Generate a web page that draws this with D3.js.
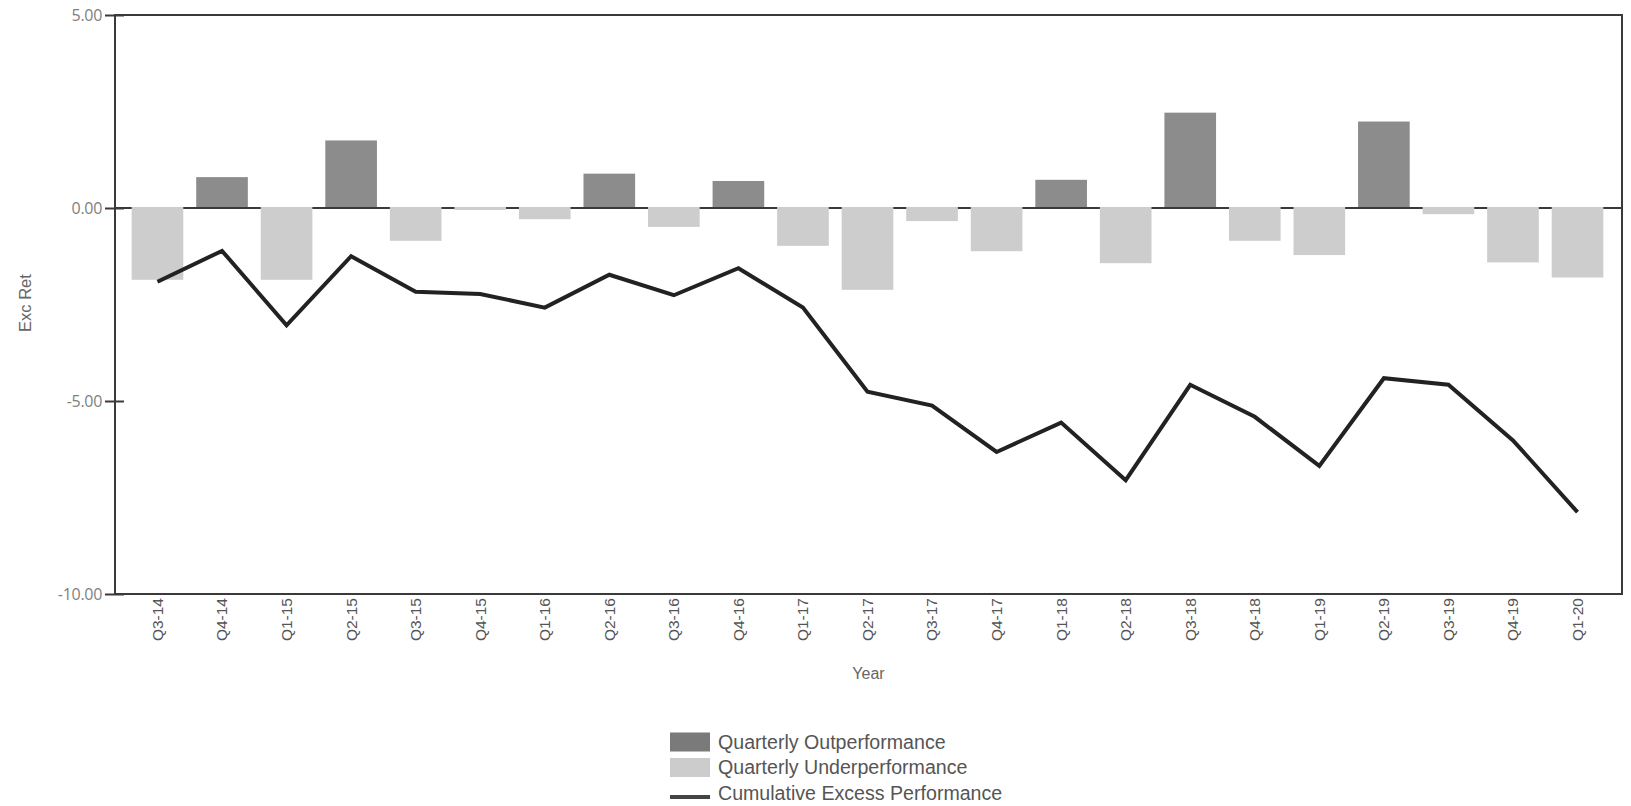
<!DOCTYPE html>
<html>
<head>
<meta charset="utf-8">
<script src="https://cdn.jsdelivr.net/npm/d3@7/dist/d3.min.js"></script>
<style>
  html, body { margin: 0; padding: 0; background: #fff; }
  svg { display: block; }
</style>
</head>
<body>
<svg id="chart" width="1631" height="806"></svg>
<script>
const categories = ["Q3-14","Q4-14","Q1-15","Q2-15","Q3-15","Q4-15","Q1-16","Q2-16","Q3-16","Q4-16","Q1-17","Q2-17","Q3-17","Q4-17","Q1-18","Q2-18","Q3-18","Q4-18","Q1-19","Q2-19","Q3-19","Q4-19","Q1-20"];
const quarterlyExcess = [-1.86, 0.80, -1.86, 1.75, -0.85, -0.05, -0.29, 0.89, -0.49, 0.70, -0.98, -2.12, -0.34, -1.12, 0.73, -1.43, 2.47, -0.85, -1.22, 2.24, -0.16, -1.41, -1.80];
const cumulativeExcess = [-1.91, -1.11, -3.04, -1.25, -2.17, -2.23, -2.58, -1.73, -2.26, -1.56, -2.58, -4.76, -5.12, -6.32, -5.56, -7.05, -4.58, -5.41, -6.68, -4.41, -4.58, -6.02, -7.88];
const yTicks = [5, 0, -5, -10];
const legendLabels = ["Quarterly Outperformance", "Quarterly Underperformance", "Cumulative Excess Performance"];

const svg = d3.select("#chart");
const frame = { left: 115, right: 1622, top: 15, bottom: 594 };

const x = d3.scaleBand().domain(categories).range([125.2, 1609.8]).paddingInner(0.2).paddingOuter(0.1);
const y = d3.scaleLinear().domain([-10, 5]).range([frame.bottom, frame.top]);

const colOut = "#8c8c8c", colUnder = "#cdcdcd", colLine = "#222222", colFrame = "#3a3a3a";

// zero line
svg.append("line")
  .attr("x1", frame.left).attr("x2", frame.right)
  .attr("y1", y(0)).attr("y2", y(0))
  .attr("stroke", colFrame).attr("stroke-width", 2);

// bars
svg.append("g").selectAll("rect")
  .data(categories.map((c, i) => ({ c, v: quarterlyExcess[i] })))
  .join("rect")
  .attr("x", d => x(d.c))
  .attr("width", x.bandwidth())
  .attr("y", d => d.v >= 0 ? y(d.v) : y(0) - 1)
  .attr("height", d => d.v >= 0 ? y(0) - 1 - y(d.v) : y(d.v) - y(0) + 1)
  .attr("fill", d => d.v >= 0 ? colOut : colUnder);

// cumulative line
const line = d3.line()
  .x((d, i) => x(categories[i]) + x.bandwidth() / 2)
  .y(d => y(d));
svg.append("path")
  .datum(cumulativeExcess)
  .attr("d", line)
  .attr("fill", "none")
  .attr("stroke", colLine)
  .attr("stroke-width", 4)
  .attr("stroke-linejoin", "miter");

// frame
svg.append("rect")
  .attr("x", frame.left).attr("y", frame.top)
  .attr("width", frame.right - frame.left).attr("height", frame.bottom - frame.top)
  .attr("fill", "none").attr("stroke", colFrame).attr("stroke-width", 2);

// y axis
const yAxis = svg.append("g")
  .attr("transform", `translate(${frame.left},0)`)
  .call(d3.axisLeft(y).tickValues(yTicks).tickFormat(d => d.toFixed(2)).tickSize(10).tickPadding(3));
yAxis.select(".domain").remove();
yAxis.selectAll(".tick line").attr("x1", 9).attr("stroke", colFrame).attr("stroke-width", 2);
yAxis.selectAll(".tick text")
  .attr("fill", "#808080")
  .style("font-family", "'Open Sans', 'Liberation Sans', sans-serif")
  .style("font-size", "16px")
  .style("letter-spacing", "-0.3px");

// x axis
const xAxis = svg.append("g")
  .attr("transform", `translate(0,${frame.bottom})`)
  .call(d3.axisBottom(x).tickSize(0));
xAxis.select(".domain").remove();
xAxis.selectAll(".tick text")
  .attr("transform", "rotate(-90)")
  .attr("x", -4).attr("y", 0).attr("dy", "0.35em")
  .attr("text-anchor", "end")
  .attr("fill", "#555")
  .style("font-family", "'Liberation Sans', Arial, sans-serif")
  .style("font-size", "15.5px");

// axis titles
svg.append("text")
  .attr("x", (frame.left + frame.right) / 2).attr("y", 673).attr("dy", "0.35em")
  .attr("text-anchor", "middle").attr("fill", "#666")
  .style("font-family", "'Liberation Sans', Arial, sans-serif").style("font-size", "16px")
  .text("Year");
svg.append("text")
  .attr("transform", "translate(25,303) rotate(-90)")
  .attr("dy", "0.35em")
  .attr("text-anchor", "middle").attr("fill", "#666")
  .style("font-family", "'Liberation Sans', Arial, sans-serif").style("font-size", "16.5px")
  .text("Exc Ret");

// legend
const legend = svg.append("g").attr("transform", "translate(670,742)");
const legendColors = ["#7a7a7a", "#cccccc", "#444444"];
legendLabels.forEach((lab, i) => {
  const g = legend.append("g").attr("transform", `translate(0,${i * 25.5})`);
  if (i < 2) {
    g.append("rect").attr("x", 0).attr("y", -9.5).attr("width", 40).attr("height", 19).attr("fill", legendColors[i]);
  } else {
    g.append("line").attr("x1", 0).attr("x2", 40).attr("y1", 4).attr("y2", 4)
      .attr("stroke", legendColors[i]).attr("stroke-width", 4);
  }
  g.append("text").attr("x", 48).attr("y", 0).attr("dy", "0.35em")
    .attr("fill", "#555")
    .style("font-family", "'Liberation Sans', Arial, sans-serif").style("font-size", "19.6px")
    .text(lab);
});
</script>
</body>
</html>
